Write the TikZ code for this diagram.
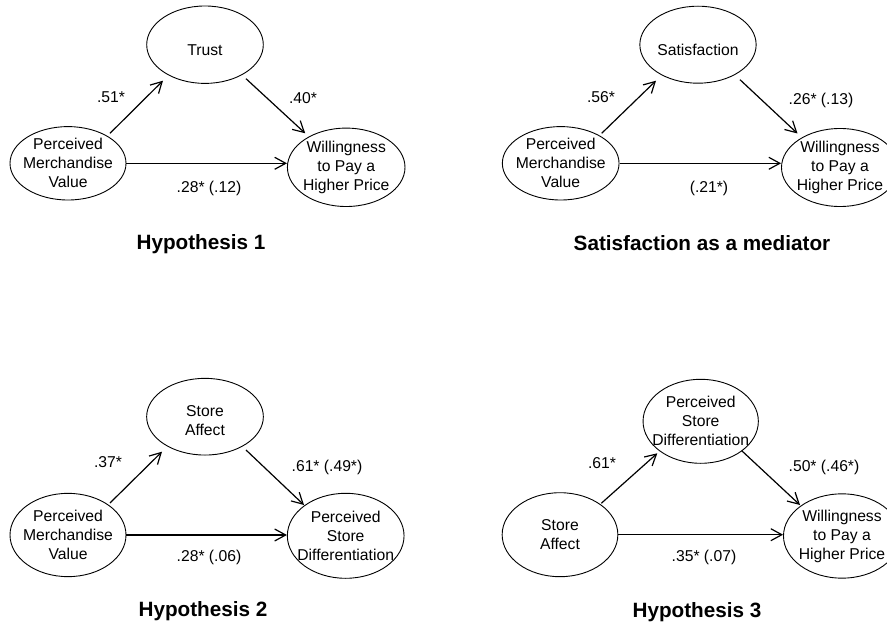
\documentclass[tikz,border=0pt]{standalone}
\usepackage{fontspec}
\setmainfont{Liberation Sans}
\usetikzlibrary{shapes.geometric,arrows.meta,calc}
\begin{document}
\begin{tikzpicture}[x=1pt,y=-1pt,
  ell/.style={draw, ellipse, line width=0.9pt, inner sep=0pt},
  txt/.style={font=\fontsize{15.7}{19}\selectfont, align=center, inner sep=0pt},
  ttl/.style={font=\fontsize{20.7}{24}\selectfont\bfseries, inner sep=0pt, anchor=base},
  arr/.style={line width=1.2pt, -{Straight Barb[length=11pt,width=12pt]}}
]
\fill[white] (0,0) rectangle (887,623);
\useasboundingbox (0,0) rectangle (887,623);

% ---------- Panel 1 ----------
\node[ell, minimum width=116.6pt, minimum height=77.4pt, label={[txt,yshift=-5pt]center:Trust}] (t1) at (205,44.7) {};
\node[ell, minimum width=116pt, minimum height=73.4pt, label={[txt]center:{Perceived\\Merchandise\\Value}}] (p1) at (68,163.3) {};
\node[ell, minimum width=117.6pt, minimum height=78.4pt, label={[txt]center:{Willingness\\to Pay a\\Higher Price}}] (w1) at (346.2,167.3) {};
\draw[arr] ([shift={(42,-30)}]p1.center) -- ([shift={(-42,36)}]t1.center);
\draw[arr] ([shift={(41,34)}]t1.center) -- ([shift={(-41,-34)}]w1.center);
\draw[arr] (p1.east) -- (p1.east -| w1.west);
\node[txt] (c11) at (111,97) {.51*};
\node[txt] (c12) at (303,98) {.40*};
\node[txt] (c13) at (209,188) {.28* (.12)};
\node[ttl] (h1) at (201,250) {Hypothesis 1};

% ---------- Panel 2 ----------
\node[ell, minimum width=116.3pt, minimum height=77pt, label={[txt,yshift=-5pt]center:Satisfaction}] (s2) at (698,44.7) {};
\node[ell, minimum width=116.7pt, minimum height=73.4pt, label={[txt]center:{Perceived\\Merchandise\\Value}}] (p2) at (560.7,163.3) {};
\node[ell, minimum width=117pt, minimum height=78pt, label={[txt]center:{Willingness\\to Pay a\\Higher Price}}] (w2) at (840,167.5) {};
\draw[arr] ([shift={(41,-30)}]p2.center) -- ([shift={(-42,36)}]s2.center);
\draw[arr] ([shift={(42,35)}]s2.center) -- ([shift={(-42.5,-34)}]w2.center);
\draw[arr] (p2.east) -- (p2.east -| w2.west);
\node[txt] (c21) at (601,97) {.56*};
\node[txt] (c22) at (821,100) {.26* (.13)};
\node[txt] (c23) at (709,188) {(.21*)};
\node[ttl] (h2) at (702,251) {Satisfaction as a mediator};

% ---------- Panel 3 ----------
\node[ell, minimum width=116.7pt, minimum height=76.7pt, label={[txt,yshift=-4pt]center:{Store\\Affect}}] (a3) at (205,416.7) {};
\node[ell, minimum width=116pt, minimum height=83.3pt, label={[txt]center:{Perceived\\Merchandise\\Value}}] (p3) at (68,535) {};
\node[ell, minimum width=116.7pt, minimum height=85pt, label={[txt]center:{Perceived\\Store\\Differentiation}}] (d3) at (345.7,535.8) {};
\draw[arr] ([shift={(42,-32)}]p3.center) -- ([shift={(-43,35)}]a3.center);
\draw[arr] ([shift={(41,33.3)}]a3.center) -- ([shift={(-41.7,-30.8)}]d3.center);
\draw[arr] (p3.east) -- (p3.east -| d3.west);
\node[txt] (c31) at (108,462) {.37*};
\node[txt] (c32) at (327,467) {.61* (.49*)};
\node[txt] (c33) at (209,557) {.28* (.06)};
\node[ttl] (h3) at (203,616.7) {Hypothesis 2};

% ---------- Panel 4 ----------
\node[ell, minimum width=115.3pt, minimum height=84pt, label={[txt]center:{Perceived\\Store\\Differentiation}}] (d4) at (700.7,421.3) {};
\node[ell, minimum width=115.7pt, minimum height=84pt, label={[txt]center:{Store\\Affect}}] (a4) at (560,534.7) {};
\node[ell, minimum width=117pt, minimum height=84.3pt, label={[txt]center:{Willingness\\to Pay a\\Higher Price}}] (w4) at (842,536) {};
\draw[arr] ([shift={(41.3,-31.4)}]a4.center) -- ([shift={(-43.4,32)}]d4.center);
\draw[arr] ([shift={(41,29.4)}]d4.center) -- ([shift={(-42,-31)}]w4.center);
\draw[arr] (a4.east) -- (a4.east -| w4.west);
\node[txt] (c41) at (602,463) {.61*};
\node[txt] (c42) at (824,467) {.50* (.46*)};
\node[txt] (c43) at (704,557) {.35* (.07)};
\node[ttl] (h4) at (697,617) {Hypothesis 3};
\end{tikzpicture}
\end{document}
